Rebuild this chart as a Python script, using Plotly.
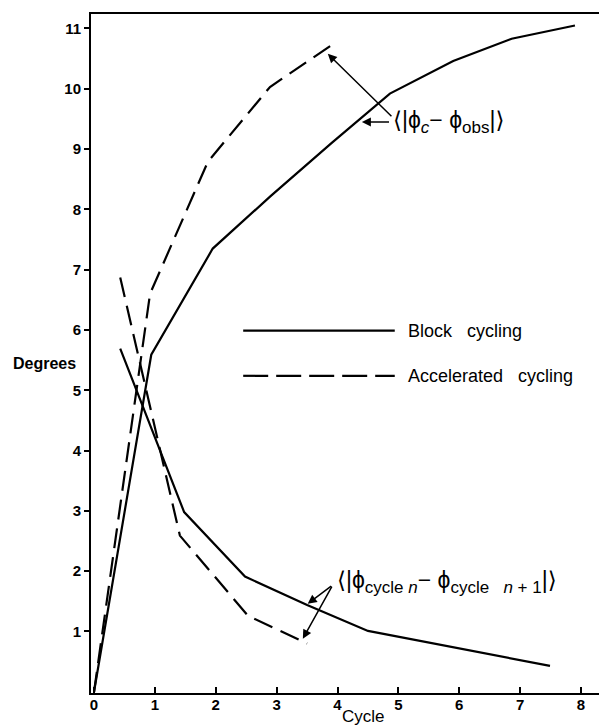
import plotly.graph_objects as go

# ---- data ----
block_rise_x = [0, 0.94, 1.95, 2.9, 3.9, 4.86, 5.9, 6.86, 7.9]
block_rise_y = [0, 5.59, 7.35, 8.22, 9.1, 9.92, 10.46, 10.83, 11.05]

accel_rise_x = [0, 0.92, 1.87, 2.89, 3.88]
accel_rise_y = [0, 6.6, 8.79, 10.03, 10.71]

block_diff_x = [0.43, 1.48, 2.48, 3.5, 4.5, 5.5, 6.5, 7.49]
block_diff_y = [5.69, 2.98, 1.91, 1.44, 1.01, 0.82, 0.62, 0.43]

accel_diff_x = [0.43, 1.41, 2.53, 3.5]
accel_diff_y = [6.87, 2.59, 1.26, 0.8]

x_ticks = [0, 1, 2, 3, 4, 5, 6, 7, 8]
y_ticks = [1, 2, 3, 4, 5, 6, 7, 8, 9, 10, 11]

legend_names = ["Block\u00a0\u00a0\u00a0cycling", "Accelerated\u00a0\u00a0\u00a0cycling"]

FONT = "Liberation Sans, Arial, DejaVu Sans, sans-serif"
DASH = "20px,9px"

# page layout (page pixels); the page body has an 8px margin
OFF = 8
PL, PR, PT, PB = 91, 606, 14, 693
FIG_W, FIG_H = 607 - OFF, 726 - OFF


def px(p):
    return (p - PL) / (PR - PL)


def py(p):
    return (PB - p) / (PB - PT)


fig = go.Figure()


def add(x, y, dash):
    fig.add_trace(go.Scatter(x=x, y=y, mode="lines",
                             line=dict(color="black", width=2.2, dash=dash),
                             showlegend=False, hoverinfo="skip"))


add(block_rise_x, block_rise_y, "solid")
add(accel_rise_x, accel_rise_y, DASH)
add(block_diff_x, block_diff_y, "solid")
add(accel_diff_x, accel_diff_y, DASH)

# legend samples
fig.add_shape(type="line", x0=2.45, x1=4.94, y0=5.99, y1=5.99, xref="x", yref="y",
              line=dict(color="black", width=2.2))
fig.add_shape(type="line", x0=2.45, x1=4.94, y0=5.24, y1=5.24, xref="x", yref="y",
              line=dict(color="black", width=2.2, dash="25px,8px"))
fig.add_annotation(x=5.12, y=5.99, text=legend_names[0], showarrow=False,
                   xanchor="left", yanchor="middle", font=dict(size=18, family=FONT, color="black"))
fig.add_annotation(x=5.12, y=5.24, text=legend_names[1], showarrow=False,
                   xanchor="left", yanchor="middle", font=dict(size=18, family=FONT, color="black"))

SUB = "<span style='font-size:17px'>"
# top label and arrows
fig.add_annotation(x=4.88, y=9.45, xanchor="left", yanchor="middle", showarrow=False,
                   text="⟨|ϕ<sub>" + SUB + "<i>c</i></span></sub>− ϕ<sub>" + SUB + "obs</span></sub>|⟩",
                   font=dict(size=23, family=FONT, color="black"))
arrow_kw = dict(showarrow=True, arrowhead=2, arrowsize=1.2, arrowwidth=1.5,
                arrowcolor="black", axref="x", ayref="y", text="")
fig.add_annotation(x=4.40, y=9.45, ax=4.87, ay=9.45, **arrow_kw)
fig.add_annotation(x=3.84, y=10.58, ax=4.91, ay=9.52, **arrow_kw)

# bottom label and arrows
fig.add_annotation(x=3.96, y=1.82, xanchor="left", yanchor="middle", showarrow=False,
                   text="⟨|ϕ<sub>" + SUB + "cycle\u00a0<i>n</i></span></sub>−\u00a0ϕ<sub>" + SUB
                        + "cycle\u00a0\u00a0\u00a0<i>n</i>\u00a0+\u00a01</span></sub>|⟩",
                   font=dict(size=23, family=FONT, color="black"))
fig.add_annotation(x=3.51, y=1.46, ax=3.92, ay=1.77, **arrow_kw)
fig.add_annotation(x=3.43, y=0.88, ax=3.92, ay=1.77, **arrow_kw)

# axis titles
fig.add_annotation(x=px(78), y=py(364), xref="paper", yref="paper", text="<b>Degrees</b>",
                   showarrow=False, xanchor="right", yanchor="middle",
                   font=dict(size=16, family=FONT, color="black"))
fig.add_annotation(x=px(363), y=py(716), xref="paper", yref="paper",
                   text="Cycle", showarrow=False, xanchor="center", yanchor="middle",
                   font=dict(size=17, family=FONT, color="black"))

fig.update_layout(
    width=FIG_W, height=FIG_H,
    margin=dict(l=PL - OFF, r=(OFF + FIG_W) - PR, t=PT - OFF, b=(OFF + FIG_H) - PB, autoexpand=False),
    paper_bgcolor="white", plot_bgcolor="white",
    showlegend=False,
    font=dict(family=FONT, color="black", size=14),
)

fig.update_xaxes(range=[-0.05, 8.41], tickvals=x_ticks, ticktext=["<b>%d</b>" % v for v in x_ticks],
                 showline=True, linecolor="black", linewidth=2, mirror=True,
                 ticks="inside", ticklen=6, tickwidth=1.5, tickcolor="black",
                 ticklabelstandoff=-3,
                 showgrid=False, zeroline=False, tickfont=dict(size=15, family=FONT))
fig.update_yaxes(range=[-0.02, 11.24], tickvals=y_ticks, ticktext=["<b>%d</b>" % v for v in y_ticks],
                 showline=True, linecolor="black", linewidth=2, mirror=True,
                 ticks="outside", ticklen=5, tickwidth=1.5, tickcolor="black",
                 showgrid=False, zeroline=False, tickfont=dict(size=15, family=FONT))

fig.write_html("out.html")
